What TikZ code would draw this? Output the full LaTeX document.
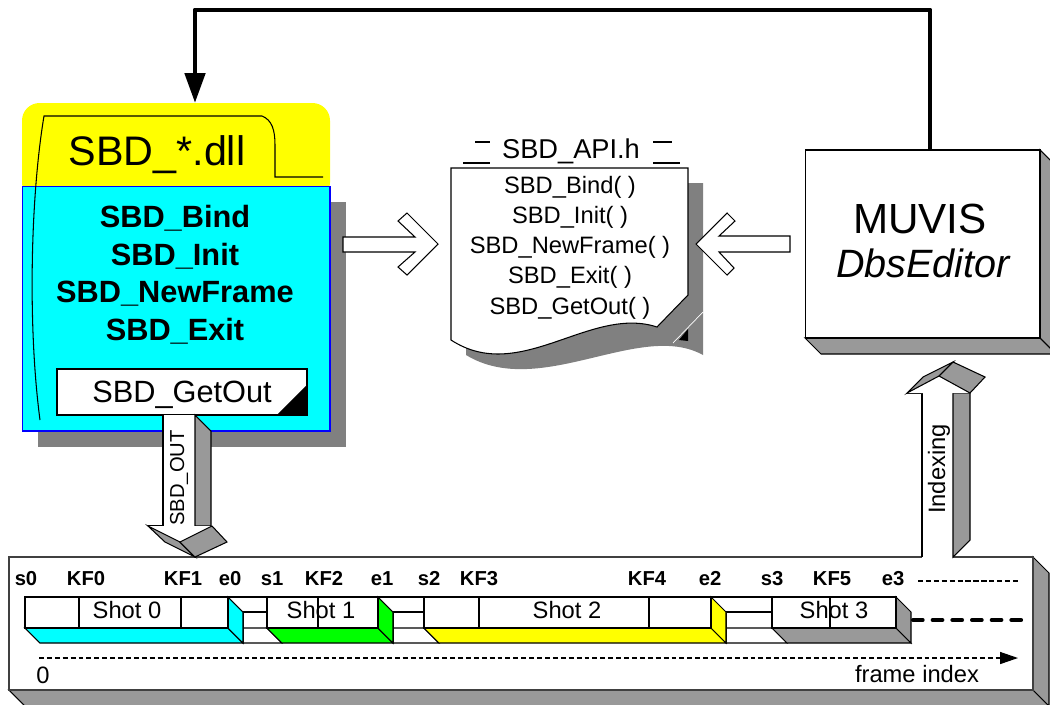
\documentclass[tikz,border=0pt]{standalone}
\usepackage{fontspec}
\setmainfont{Liberation Sans}
\usetikzlibrary{arrows.meta}

\definecolor{shadowgray}{RGB}{128,128,128}
\definecolor{facegray}{RGB}{153,153,153}
\definecolor{dllyellow}{RGB}{255,255,0}
\definecolor{dllcyan}{RGB}{0,255,255}
\definecolor{shotgreen}{RGB}{0,255,0}

\newcommand{\fsz}[1]{\fontsize{#1}{#1}\selectfont}

\tikzset{
  hairline/.style={line width=0.6pt},
  face/.style={fill=facegray, draw=black, line width=0.6pt},
  whiteface/.style={fill=white, draw=black, line width=0.6pt},
  boldname/.style={font=\fsz{17.5}\bfseries, anchor=base},
  apiname/.style={font=\fsz{13.5}, anchor=base},
  marklabel/.style={font=\fsz{11.5}\bfseries, anchor=base},
  shotlabel/.style={font=\fsz{13.5}, anchor=base},
}

\begin{document}
\begin{tikzpicture}[x=0.02cm, y=-0.02cm]
  \useasboundingbox (0,0) rectangle (1050,704);
  \clip (0,0) rectangle (1050,704);

  % SBD_*.dll module
  \fill[shadowgray] (38,202) rectangle (346,447);
  \fill[dllyellow, rounded corners=10pt] (22,200) -- (22,103) -- (330,103) -- (330,200) -- cycle;
  \node[draw=blue, fill=dllcyan, hairline, minimum width=6.16cm, minimum height=4.9cm,
        inner sep=0, outer sep=0] (dllbody) at (176,308.5) {};
  \draw[hairline] (40,420) .. controls (28,330) and (30,200) .. (44,116) -- (262,116)
    .. controls (272,120) and (275,130) .. (275,145) -- (275,177) -- (323,177);
  \node[font=\fsz{23.5}, anchor=base] (dllname) at (157,165) {SBD\_*.dll};
  \foreach \name/\yy in {Bind/227, Init/265, NewFrame/302, Exit/340}
    \node[boldname] (dll\name) at (175,\yy) {SBD\_\name};

  % SBD_GetOut slot
  \node[whiteface, minimum width=5cm, minimum height=0.92cm, inner sep=0, outer sep=0]
    (getout) at (182,392) {};
  \fill (getout.south east) -- ++(-30,0) -- ++(30,-30) -- cycle;
  \node[font=\fsz{17.5}, anchor=base] (getoutlabel) at (182,402) {SBD\_GetOut};

  % arrow dll -> header
  \filldraw[whiteface] (343,237) -- (415,237) -- (398,221) -- (407,213) -- (438,244)
    -- (407,275) -- (398,267) -- (415,252) -- (343,252) -- cycle;

  % SBD_API.h header
  \fill[shadowgray] (466,183) -- (703,183) -- (703,355)
    .. controls (640,320) and (540,400) .. (466,355) -- cycle;
  \filldraw[whiteface] (451,168) -- (688,168) -- (688,295) -- (657,327)
    .. controls (590,305) and (520,385) .. (451,340) -- cycle;
  \fill (688,329) -- (688,341) -- (679,340) -- cycle;
  \draw[white, line width=0.4pt] (673,343) -- (703,312);
  \node[font=\fsz{15.5}] (apititle) at (571,151) {SBD\_API.h};
  \draw[hairline] (475,142) -- (490,142) (463,163) -- (490,163)
                  (653,142) -- (672,142) (653,163) -- (680,163);
  \foreach \name/\yy in {Bind/193, Init/223, NewFrame/253, Exit/283, GetOut/314}
    \node[apiname] (api\name) at (570,\yy) {SBD\_\name( )};

  % arrow editor -> header
  \filldraw[whiteface] (696,244) -- (727,213) -- (735,221) -- (719,236) -- (790,236)
    -- (790,252) -- (719,252) -- (734,268) -- (727,275) -- cycle;

  % MUVIS DbsEditor
  \filldraw[face] (805,338) -- (1040,338) -- (1056,354) -- (821,354) -- cycle;
  \filldraw[face] (1040,150) -- (1056,166) -- (1056,354) -- (1040,338) -- cycle;
  \node[whiteface, minimum width=4.7cm, minimum height=3.76cm, inner sep=0, outer sep=0]
    (muvis) at (922.5,244) {};
  \node[font=\fsz{24}, anchor=base] (muvisname) at (920,233) {MUVIS};
  \node[font=\fsz{22.5}\itshape, anchor=base] (dbsname) at (923,277) {DbsEditor};

  % feedback to the dll
  \coordinate (dlltop) at (195,103);
  \draw[line width=2.8pt, line join=round, -{Triangle[length=0.6cm, width=0.4cm]}]
    ([xshift=0.15cm]muvis.north) -- ++(0,-140) -| (dlltop);

  % timeline panel
  \filldraw[face] (9,690) -- (1033,690) -- (1049,706) -- (25,706) -- cycle;
  \filldraw[face] (1033,557) -- (1049,573) -- (1049,706) -- (1033,690) -- cycle;
  \filldraw[fill=white, draw=black!75, hairline] (9,557) rectangle (1033,690);

  % SBD_OUT arrow
  \fill[white] (163,415) rectangle (195,526);
  \draw[hairline] (163,415) -- (163,526) -- (148,526);
  \filldraw[face] (195,415) -- (211,431) -- (211,526) -- (195,526) -- cycle;
  \fill[white] (148,526) -- (180,542) -- (212,526) -- cycle;
  \filldraw[face] (148,526) -- (165,542) -- (195,557) -- (180,542) -- cycle;
  \filldraw[face] (180,542) -- (195,557) -- (227,542) -- (212,526) -- cycle;
  \node[font=\fsz{11.5}, rotate=90] (outlabel) at (179,478) {SBD\_OUT};

  % Indexing arrow
  \fill[white] (922,393) rectangle (953,558);
  \draw[hairline] (922,557) -- (922,393) -- (907,393);
  \filldraw[face] (953,393) -- (970,393) -- (970,540) -- (953,557) -- cycle;
  \fill[white] (907,393) -- (939,376) -- (970,393) -- cycle;
  \filldraw[face] (907,393) -- (923,377) -- (953,362) -- (939,376) -- cycle;
  \filldraw[face] (939,376) -- (953,362) -- (985,377) -- (970,393) -- cycle;
  \node[font=\fsz{13.5}, rotate=90] (idxlabel) at (939,469) {Indexing};

  % transitions between shots
  \foreach \b/\a in {228/267, 378/424, 711/772} {
    \draw[hairline] (\b,597) -- (\a,597);
    \filldraw[whiteface] (\b+15,628) -- (\a,628) -- (\a+15,643) -- (\b+15,643) -- cycle;
    \draw[hairline] (\b+15,643) -- (\b+15,612) -- (\a,612);
  }

  % shots
  \foreach \a/\b/\col in {25/228/dllcyan, 267/378/shotgreen, 424/711/dllyellow, 772/896/facegray} {
    \filldraw[hairline, fill=\col] (\a,628) -- (\b,628) -- (\b+15,643) -- (\a+15,643) -- cycle;
    \filldraw[hairline, fill=\col] (\b,597) -- (\b+15,612) -- (\b+15,643) -- (\b,628) -- cycle;
    \filldraw[whiteface] (\a,597) rectangle (\b,628);
  }
  \foreach \x in {79,181,318,479,649,830}
    \draw[hairline] (\x,597) -- (\x,628);
  \foreach \x/\n in {127/0, 321/1, 567/2, 834/3}
    \node[shotlabel] (shot\n) at (\x,618) {Shot \n};

  % boundaries and key frames
  \foreach \x/\t in {26/s0, 86/KF0, 183/KF1, 230/e0, 272/s1, 324/KF2, 382/e1, 429/s2,
                     479/KF3, 647/KF4, 710/e2, 772/s3, 832/KF5, 893/e3}
    \node[marklabel] (m\t) at (\x,585) {\t};
  \draw[hairline, dash pattern=on 3pt off 1.5pt] (918,581) -- (1020,581);
  \draw[line width=2.3pt, line cap=round, dash pattern=on 5.5pt off 5.7pt] (913,620) -- (1030,620);

  % frame index axis
  \coordinate (axstart) at (39,658);
  \coordinate (axend) at (1018,658);
  \draw[line width=0.8pt, dash pattern=on 2.8pt off 1.7pt,
        -{Triangle[length=0.36cm, width=0.24cm]}] (axstart) -- (axend);
  \node[shotlabel] (zero) at (43,683) {0};
  \node[shotlabel] (frameidx) at (917,682) {frame index};
\end{tikzpicture}
\end{document}
